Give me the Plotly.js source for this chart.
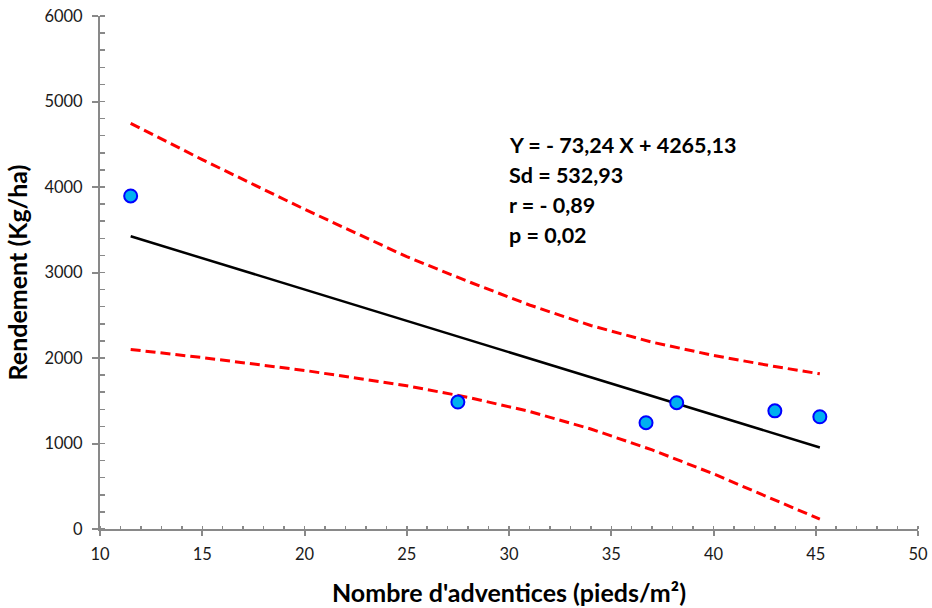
<!DOCTYPE html>
<html>
<head>
<meta charset="utf-8">
<script src="https://cdn.plot.ly/plotly-3.0.1.min.js"></script>
<style>html,body{margin:0;padding:0;background:#fff;}#chart{width:932px;height:608px;}</style>
</head>
<body>
<div id="chart"></div>
<script>
// Observed data
var obsX = [11.5, 27.5, 36.7, 38.2, 43.0, 45.2];
var obsY = [3895, 1485, 1243, 1477, 1382, 1313];

// Regression line end points
var fitX = [11.5, 45.2];
var fitY = [3424, 953];

// Confidence band
var bandX = [11.5, 15, 20, 25, 28, 31, 34, 37, 40, 43, 45.2];
var upperY = [4745, 4320, 3740, 3185, 2895, 2620, 2380, 2185, 2030, 1900, 1815];
var lowerY = [2100, 2005, 1855, 1675, 1540, 1375, 1170, 925, 645, 335, 115];

var statLines = ["Y = - 73,24 X + 4265,13", "Sd = 532,93", "r = - 0,89", "p = 0,02"];

var xTitle = "Nombre d'adventices (pieds/m²)";
var yTitle = "Rendement (Kg/ha)";

var FONT = "Lato, 'Open Sans', sans-serif";
var AX = "#898989";

var traces = [
  {x: bandX, y: upperY, mode: 'lines', line: {color: '#FF0000', width: 3, dash: '10px,5px'}, hoverinfo: 'skip'},
  {x: bandX, y: lowerY, mode: 'lines', line: {color: '#FF0000', width: 3, dash: '10px,5px'}, hoverinfo: 'skip'},
  {x: fitX, y: fitY, mode: 'lines', line: {color: '#000000', width: 2.5}},
  {x: obsX, y: obsY, mode: 'markers', marker: {size: 13, color: '#00B0F0', line: {color: '#0000FF', width: 2}}}
];

var statY = [0.7485, 0.690, 0.6316, 0.573];
var annotations = statLines.map(function (t, i) {
  return {text: '<b>' + t + '</b>', xref: 'paper', yref: 'paper', x: 0.497, y: statY[i],
    xanchor: 'left', yanchor: 'middle', showarrow: false, align: 'left',
    font: {family: FONT, size: 21.5, color: '#000'}};
});

var layout = {
  width: 932, height: 608,
  margin: {l: 100, r: 14, t: 16, b: 79},
  paper_bgcolor: '#fff', plot_bgcolor: '#fff',
  showlegend: false,
  font: {family: FONT, color: '#1a1a1a'},
  xaxis: {
    range: [10, 50], tick0: 10, dtick: 5, showgrid: false, zeroline: false,
    showline: true, linecolor: AX, linewidth: 2,
    ticks: 'outside', ticklen: 5, tickwidth: 2, tickcolor: AX, ticklabelstandoff: 4,
    tickfont: {family: FONT, size: 16.5, color: '#1a1a1a'},
    minor: {dtick: 1, ticks: 'inside', ticklen: 3, tickwidth: 1.5, tickcolor: AX, showgrid: false},
    title: {text: '<b>' + xTitle + '</b>', font: {family: FONT, size: 25, color: '#000'}, standoff: 22}
  },
  yaxis: {
    range: [0, 6000], tick0: 0, dtick: 1000, showgrid: false, zeroline: false,
    showline: true, linecolor: AX, linewidth: 2,
    ticks: 'outside', ticklen: 6, tickwidth: 2, tickcolor: AX, ticklabelstandoff: 6,
    tickfont: {family: FONT, size: 16.5, color: '#1a1a1a'},
    minor: {dtick: 200, ticks: 'inside', ticklen: 5, tickwidth: 1.5, tickcolor: AX, showgrid: false},
    title: {text: '<b>' + yTitle + '</b>', font: {family: FONT, size: 25, color: '#000'}, standoff: 10}
  },
  xaxis2: {
    overlaying: 'x', anchor: 'y', side: 'bottom', range: [10, 50], tick0: 10, dtick: 5,
    showgrid: false, zeroline: false, showline: false, showticklabels: false,
    ticks: 'inside', ticklen: 6, tickwidth: 2, tickcolor: AX
  },
  yaxis2: {
    overlaying: 'y', anchor: 'x', side: 'left', range: [0, 6000], tick0: 0, dtick: 1000,
    showgrid: false, zeroline: false, showline: false, showticklabels: false,
    ticks: 'inside', ticklen: 6, tickwidth: 2, tickcolor: AX
  },
  annotations: annotations
};

Plotly.newPlot('chart', traces, layout, {displayModeBar: false, staticPlot: true});
</script>
</body>
</html>
